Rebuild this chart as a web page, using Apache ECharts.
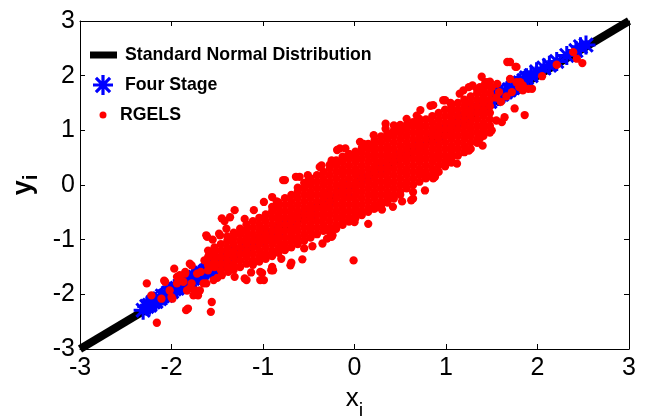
<!DOCTYPE html>
<html><head><meta charset="utf-8">
<script src="https://cdn.jsdelivr.net/npm/echarts@6/dist/echarts.min.js"></script>
<style>html,body{margin:0;padding:0;background:#fff}#c{width:648px;height:416px}</style>
</head><body><div id="c"></div>
<script>
const xTicks = [-3,-2,-1,0,1,2,3];
const yTicks = [-3,-2,-1,0,1,2,3];
const lineX = [-3, 3];
const lineY = [-3, 3];
const fourStage = [[-2.31,-2.29],[-2.27,-2.22],[-2.24,-2.2],[-2.2,-2.14],[-2.17,-2.13],[-2.13,-2.08],[-2.1,-2.03],[-2.06,-2.02],[-2.03,-1.97],[-2.0,-1.95],[-1.97,-1.9],[-1.94,-1.89],[-1.9,-1.84],[-1.87,-1.82],[-1.84,-1.78],[-1.8,-1.75],[-1.77,-1.71],[-1.74,-1.69],[-1.7,-1.65],[-1.67,-1.61],[-1.63,-1.58],[-1.6,-1.54],[-1.56,-1.51],[-1.52,-1.47],[-1.48,-1.43],[-1.44,-1.39],[-1.4,-1.35],[-1.35,-1.3],[-1.3,-1.25],[-1.25,-1.2],[-1.2,-1.15],[-1.12,-1.08],[-1.04,-1.0],[-0.95,-0.91],[-0.85,-0.82],[-0.7,-0.67],[-0.5,-0.48],[-0.3,-0.28],[-0.1,-0.08],[0.1,0.12],[0.3,0.32],[0.5,0.52],[0.7,0.72],[0.9,0.93],[1.05,1.09],[1.15,1.2],[1.25,1.3],[1.35,1.4],[1.42,1.47],[1.48,1.53],[1.53,1.58],[1.57,1.62],[1.61,1.66],[1.65,1.7],[1.69,1.74],[1.73,1.78],[1.77,1.82],[1.81,1.87],[1.85,1.91],[1.88,1.96],[1.93,2.0],[1.99,2.07],[2.07,2.14],[2.13,2.19],[2.21,2.26],[2.32,2.37],[2.42,2.46],[2.47,2.53],[2.53,2.56]];
const rgelsCoreX = [-1.60,-1.53,-1.46,-1.39,-1.32,-1.25,-1.18,-1.11,-1.04,-0.97,-0.90,-0.83,-0.76,-0.69,-0.62,-0.55,-0.48,-0.41,-0.34,-0.27,-0.20,-0.13,-0.06,0.01,0.08,0.15,0.22,0.29,0.36,0.43,0.50,0.57,0.64,0.71,0.78,0.85,0.92,0.99,1.06,1.13,1.20,1.27,1.34,1.41,1.48];
const rgelsCoreY = [
[-1.56,-1.44,-1.32,-1.2],
[-1.5,-1.38,-1.26,-1.14],
[-1.56,-1.44,-1.32,-1.2,-1.08],
[-1.5,-1.38,-1.26,-1.14,-1.02,-0.94],
[-1.55,-1.44,-1.32,-1.2,-1.08,-0.96,-0.87],
[-1.5,-1.38,-1.26,-1.14,-1.02,-0.9,-0.8],
[-1.44,-1.32,-1.2,-1.08,-0.96,-0.84,-0.72],
[-1.46,-1.38,-1.26,-1.14,-1.02,-0.9,-0.78,-0.66],
[-1.4,-1.32,-1.2,-1.08,-0.96,-0.84,-0.72,-0.6],
[-1.35,-1.26,-1.14,-1.02,-0.9,-0.78,-0.66,-0.54],
[-1.3,-1.2,-1.08,-0.96,-0.84,-0.72,-0.6,-0.48,-0.4],
[-1.24,-1.14,-1.02,-0.9,-0.78,-0.66,-0.54,-0.42,-0.32],
[-1.19,-1.08,-0.96,-0.84,-0.72,-0.6,-0.48,-0.36,-0.24],
[-1.14,-1.02,-0.9,-0.78,-0.66,-0.54,-0.42,-0.3,-0.18],
[-1.08,-0.96,-0.84,-0.72,-0.6,-0.48,-0.36,-0.24,-0.12,-0.05],
[-1.02,-0.9,-0.78,-0.66,-0.54,-0.42,-0.3,-0.18,-0.06,0.04],
[-0.96,-0.84,-0.72,-0.6,-0.48,-0.36,-0.24,-0.12,0,0.12],
[-0.9,-0.78,-0.66,-0.54,-0.42,-0.3,-0.18,-0.06,0.06,0.18],
[-0.84,-0.72,-0.6,-0.48,-0.36,-0.24,-0.12,0,0.12,0.24],
[-0.86,-0.78,-0.66,-0.54,-0.42,-0.3,-0.18,-0.06,0.06,0.18,0.3,0.37],
[-0.8,-0.72,-0.6,-0.48,-0.36,-0.24,-0.12,0,0.12,0.24,0.36,0.45],
[-0.73,-0.66,-0.54,-0.42,-0.3,-0.18,-0.06,0.06,0.18,0.3,0.42,0.52],
[-0.67,-0.6,-0.48,-0.36,-0.24,-0.12,0,0.12,0.24,0.36,0.48,0.57],
[-0.61,-0.54,-0.42,-0.3,-0.18,-0.06,0.06,0.18,0.3,0.42,0.54,0.61],
[-0.55,-0.48,-0.36,-0.24,-0.12,0,0.12,0.24,0.36,0.48,0.6,0.68],
[-0.49,-0.42,-0.3,-0.18,-0.06,0.06,0.18,0.3,0.42,0.54,0.66,0.75],
[-0.43,-0.36,-0.24,-0.12,0,0.12,0.24,0.36,0.48,0.6,0.72,0.82],
[-0.38,-0.3,-0.18,-0.06,0.06,0.18,0.3,0.42,0.54,0.66,0.78,0.89],
[-0.32,-0.24,-0.12,0,0.12,0.24,0.36,0.48,0.6,0.72,0.84,0.95],
[-0.25,-0.18,-0.06,0.06,0.18,0.3,0.42,0.54,0.66,0.78,0.9,1.0],
[-0.18,-0.12,0,0.12,0.24,0.36,0.48,0.6,0.72,0.84,0.96,1.05],
[-0.06,0.06,0.18,0.3,0.42,0.54,0.66,0.78,0.9,1.02,1.1],
[0,0.12,0.24,0.36,0.48,0.6,0.72,0.84,0.96,1.08,1.15],
[0.06,0.18,0.3,0.42,0.54,0.66,0.78,0.9,1.02,1.14,1.21],
[0.12,0.24,0.36,0.48,0.6,0.72,0.84,0.96,1.08,1.2],
[0.18,0.3,0.42,0.54,0.66,0.78,0.9,1.02,1.14,1.26],
[0.24,0.36,0.48,0.6,0.72,0.84,0.96,1.08,1.2,1.32],
[0.34,0.42,0.54,0.66,0.78,0.9,1.02,1.14,1.26,1.38],
[0.41,0.48,0.6,0.72,0.84,0.96,1.08,1.2,1.32,1.44],
[0.54,0.66,0.78,0.9,1.02,1.14,1.26,1.38,1.5],
[0.6,0.72,0.84,0.96,1.08,1.2,1.32,1.44,1.56],
[0.66,0.78,0.9,1.02,1.14,1.26,1.38,1.5,1.62],
[0.77,0.84,0.96,1.08,1.2,1.32,1.44,1.56,1.68,1.75],
[0.9,1.02,1.14,1.26,1.38,1.5,1.62,1.74,1.8],
[0.96,1.08,1.2,1.32,1.44,1.56,1.68,1.8]
];
const rgelsFringe = [
[-2.27,-1.8],[-2.16,-2.52],[-2.22,-2.02],[-2.11,-2.08],[-2.0,-2.05],[-1.99,-2.08],[-2.08,-1.75],[-2.07,-1.77],[-2.02,-1.93],[-1.94,-1.8],[-1.97,-1.53],[-1.91,-1.65],[-1.94,-1.68],[-1.89,-1.75],[-1.85,-1.62],[-1.87,-1.77],[-1.83,-1.93],[-1.8,-1.89],[-1.82,-2.26],[-1.84,-2.29],[-1.76,-2.02],[-1.71,-2.02],[-1.8,-1.44],[-1.78,-1.47],[-1.85,-1.59],[-1.78,-1.8],[-1.74,-1.93],[-1.72,-1.62],[-1.69,-1.93],[-1.68,-1.59],[-1.65,-1.8],[-1.62,-1.8],[-1.57,-2.32],[-1.54,-1.74],[-1.56,-2.14],[-1.61,-0.95],[-1.59,-1.29],[-1.6,-1.47],[-1.48,-0.89],[-1.62,-0.92],[-1.5,-1.7],[-1.45,-1.65],[-1.64,-1.38],[-1.55,-1.0],
[-1.38,-1.59],[-1.31,-1.68],[-1.2,-1.71],[-1.18,-1.74],[-1.03,-1.74],[-0.99,-1.74],[-1.03,-1.59],[-1.01,-1.61],[-0.91,-1.56],[-0.89,-1.56],[-0.9,-1.5],[-0.7,-1.47],[-0.69,-1.42],[-0.57,-1.36],[-0.55,-1.16],[-0.46,-1.12],[-0.35,-1.07],[-0.25,-0.95],[-0.24,-0.92],[-0.01,-1.38],[0.0,-0.68],[0.15,-0.71],[0.21,-0.43],[0.42,-0.4],[0.62,-0.28],[0.64,-0.25],[0.64,-0.13],[0.77,-0.1],[0.79,0.15],[0.88,0.15],[0.86,0.12],[1.05,0.45],[1.12,0.39],[1.25,0.63],[1.4,0.72],[1.37,0.85],[1.5,1.0],[1.55,1.18],[1.61,1.15],[1.64,1.24],[1.75,1.4],[1.86,1.28],[-1.13,-1.6],[-0.8,-1.35],[-0.3,-0.98],[0.3,-0.45],[0.52,-0.3],
[-1.45,-0.61],[-1.42,-0.66],[-1.36,-0.59],[-1.31,-0.46],[-1.47,-0.92],[-1.4,-0.8],[-1.1,-0.46],[-0.99,-0.31],[-0.9,-0.22],[-0.78,0.09],[-0.76,0.09],[-0.64,0.15],[-0.6,0.15],[-0.51,0.18],[-0.38,0.33],[-0.36,0.36],[-0.19,0.64],[-0.16,0.67],[-0.1,0.67],[0.06,0.79],[0.21,0.91],[0.34,1.03],[0.34,1.12],[0.43,1.09],[0.57,1.21],[0.68,1.27],[0.72,1.37],[0.83,1.45],[0.86,1.46],[0.97,1.55],[0.99,1.55],[1.15,1.67],[1.19,1.73],[1.25,1.79],[1.29,1.82],[1.39,1.98],[1.37,1.79],[1.43,1.88],[1.46,1.88],[1.48,1.89],[1.5,1.79],[1.56,1.85],[-1.2,-0.62],[-0.85,-0.3],[-0.5,0.1],[-0.25,0.45],[0.1,0.75],[0.5,1.1],[1.05,1.5],
[1.67,2.25],[1.7,2.25],[1.77,2.16],[1.76,2.16],[1.7,1.94],[1.77,1.88],[1.81,1.88],[1.84,1.82],[1.8,1.79],[1.84,1.73],[1.9,1.76],[1.94,1.76],[2.05,1.99],[2.21,2.2],[2.39,2.43],[2.43,2.31],[2.49,2.23],[1.66,1.62],[1.72,1.7],[1.6,1.52],[1.55,1.6],[1.58,1.7]
];

const FONT = "'Liberation Sans', Arial, sans-serif";
const STAR = 'path://M-1.6,-10L1.6,-10L1.6,10L-1.6,10Z M-10,-1.6L10,-1.6L10,1.6L-10,1.6Z M-5.94,-8.2L8.2,5.94L5.94,8.2L-8.2,-5.94Z M-8.2,5.94L5.94,-8.2L8.2,-5.94L-5.94,8.2Z';

const lineData = lineX.map((x, i) => [x, lineY[i]]);
const redData = [];
rgelsCoreX.forEach((x, i) => rgelsCoreY[i].forEach(y => redData.push([x, y])));
rgelsFringe.forEach(p => redData.push(p));

const chart = echarts.init(document.getElementById('c'), null, {renderer: 'canvas'});
const axisCommon = {
  type: 'value', min: -3, max: 3, interval: 1,
  axisLine: {show: true, onZero: false, lineStyle: {color: '#000', width: 1}},
  axisTick: {show: true, inside: true, length: 5, lineStyle: {color: '#000'}},
  splitLine: {show: false}
};
const legendText = pad => ({color: '#000', fontSize: 17.7, fontWeight: 'bold', fontFamily: FONT, padding: [0, 0, 0, pad]});
chart.setOption({
  animation: false,
  backgroundColor: '#fff',
  grid: {left: 80, right: 19, top: 21, bottom: 67, containLabel: false, outerBoundsMode: 'none'},
  legend: [
    {data: [{name: 'Standard Normal Distribution', icon: 'rect'}], left: 90, top: 46, padding: 0, itemWidth: 27, itemHeight: 7, textStyle: legendText(3), selectedMode: false},
    {data: [{name: 'Four Stage', icon: STAR}], left: 93, top: 75, padding: 0, itemWidth: 20, itemHeight: 20, textStyle: legendText(7), selectedMode: false},
    {data: [{name: 'RGELS', icon: 'circle'}], left: 99.5, top: 106, padding: 0, itemWidth: 7, itemHeight: 7, textStyle: legendText(8.5), selectedMode: false}
  ],
  xAxis: [
    Object.assign({}, axisCommon, {position: 'bottom',
      axisLabel: {show: true, color: '#000', fontSize: 25, fontFamily: FONT, margin: 7, showMinLabel: true, showMaxLabel: true,
        formatter: v => xTicks.includes(v) ? String(v) : ''},
      name: '{b|x}{s|i}', nameLocation: 'middle', nameGap: 34,
      nameTextStyle: {color: '#000', fontFamily: FONT, rich: {
        b: {fontSize: 26, fontFamily: FONT, color: '#000', verticalAlign: 'top'},
        s: {fontSize: 20, fontFamily: FONT, color: '#000', verticalAlign: 'top', padding: [16, 0, 0, 0]}}}
    }),
    Object.assign({}, axisCommon, {position: 'top', axisLabel: {show: false}})
  ],
  yAxis: [
    Object.assign({}, axisCommon, {position: 'left',
      axisLabel: {show: true, color: '#000', fontSize: 25, fontFamily: FONT, margin: 5, showMinLabel: true, showMaxLabel: true,
        formatter: v => yTicks.includes(v) ? String(v) : ''},
      name: '{b|y}{s|i}', nameLocation: 'middle', nameGap: 38, nameRotate: 90,
      nameTextStyle: {color: '#000', fontFamily: FONT, rich: {
        b: {fontSize: 27, fontWeight: 'bold', fontFamily: FONT, color: '#000', verticalAlign: 'top'},
        s: {fontSize: 20, fontWeight: 'bold', fontFamily: FONT, color: '#000', verticalAlign: 'top', padding: [12, 0, 0, 0]}}}
    }),
    Object.assign({}, axisCommon, {position: 'right', axisLabel: {show: false}})
  ],
  series: [
    {name: 'Standard Normal Distribution', type: 'line', data: lineData, symbol: 'none', z: 1,
      lineStyle: {color: '#000', width: 8, opacity: 1}, itemStyle: {color: '#000'}, clip: true},
    {name: 'Four Stage', type: 'scatter', data: fourStage, symbol: STAR, symbolSize: 19, z: 2,
      itemStyle: {color: '#0000ff', opacity: 1}, clip: true},
    {name: 'RGELS', type: 'scatter', data: redData, symbol: 'circle', symbolSize: 8.3, z: 3,
      itemStyle: {color: '#ff0000', opacity: 1}, clip: true}
  ]
});
</script>
</body></html>
